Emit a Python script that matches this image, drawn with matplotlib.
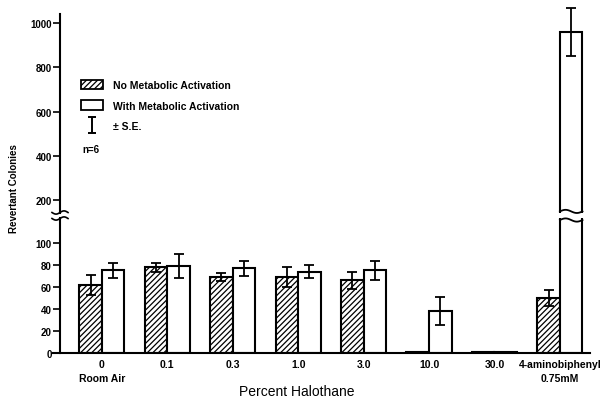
import numpy as np
import matplotlib
matplotlib.use("Agg")
import matplotlib.pyplot as plt
from matplotlib.patches import Patch
from matplotlib.lines import Line2D
from matplotlib.path import Path

plt.rcParams['font.family'] = ['Liberation Sans', 'DejaVu Sans']
plt.rcParams['hatch.linewidth'] = 0.9

# ---- data ----
categories = ["0\nRoom Air", "0.1", "0.3", "1.0", "3.0", "10.0", "30.0", "4-aminobiphenyl\n0.75mM"]
no_act = [62, 78, 69, 69, 66, 1, 1, 50]
no_act_se = [9, 4, 4, 9, 8, 0, 0, 7.5]
with_act = [75, 79, 77, 74, 75, 38, 1, 960]
with_act_se = [6.5, 11, 7, 6, 8.5, 13, 0, 110]
lower_ticks = [0, 20, 40, 60, 80, 100]
upper_ticks = [200, 400, 600, 800, 1000]

W, H = 610, 414
fig = plt.figure(figsize=(6.1, 4.14), dpi=100)

def rect(l, t, r, b):
    return [l / W, (H - b) / H, (r - l) / W, (b - t) / H]

ax_lo = fig.add_axes(rect(60, 219, 590, 354))
ax_hi = fig.add_axes(rect(60, 15, 590, 214), sharex=ax_lo)

x = np.arange(len(categories))
bw = 0.345
lw = 1.5
LO_TOP = 122.7
HI_BOT = 141

for ax in (ax_lo, ax_hi):
    ax.bar(x - bw / 2, no_act, bw, color='white', edgecolor='black', hatch='//////',
           linewidth=lw, zorder=2)
    ax.bar(x + bw / 2, with_act, bw, color='white', edgecolor='black', linewidth=lw, zorder=2)
    ax.spines['right'].set_visible(False)
    ax.spines['top'].set_visible(False)
    ax.spines['left'].set_linewidth(1.5)
    ax.tick_params(axis='y', direction='out', length=5, width=1.2, labelsize=7, pad=1)
    ax.tick_params(axis='x', length=0)

# error bars: lower panel for small values, upper panel (unclipped) for large ones
na = np.array(no_act, float); wa = np.array(with_act, float)
nse = np.array(no_act_se, float); wse = np.array(with_act_se, float)
for vals, se, off in ((na, nse, -bw / 2), (wa, wse, bw / 2)):
    lo_mask = vals < LO_TOP
    ax_lo.errorbar(x[lo_mask] + off, vals[lo_mask], yerr=se[lo_mask], fmt='none',
                   ecolor='black', elinewidth=1.3, capsize=3.5, capthick=1.3, zorder=3)
    hi_mask = vals > HI_BOT
    if hi_mask.any():
        eb = ax_hi.errorbar(x[hi_mask] + off, vals[hi_mask], yerr=se[hi_mask], fmt='none',
                            ecolor='black', elinewidth=1.3, capsize=3.5, capthick=1.3, zorder=3)
        for a in eb.lines[1] + eb.lines[2]:
            a.set_clip_on(False)

ax_lo.set_ylim(0, LO_TOP)
ax_hi.set_ylim(HI_BOT, 1041)
ax_lo.set_xlim(-0.64, 7.46)
ax_lo.set_yticks(lower_ticks)
ax_hi.set_yticks(upper_ticks)
ax_lo.spines['bottom'].set_linewidth(1.5)
ax_lo.spines['bottom'].set_bounds(-0.75, 7.46)
ax_hi.spines['bottom'].set_visible(False)
ax_hi.tick_params(axis='x', labelbottom=False)
ax_lo.set_xticks(x)
ax_lo.set_xticklabels(categories, fontsize=7.5, fontweight='bold', linespacing=1.5)
ax_lo.tick_params(axis='x', pad=4)
for t in ax_lo.get_yticklabels() + ax_hi.get_yticklabels():
    t.set_fontweight('bold')
ax_lo.spines['bottom'].set_clip_on(False)

# axis break marks on the y axis
for yb in (213.5, 219.5):
    xs = np.linspace(52, 68, 30)
    ys = yb + 1.6 * np.sin((xs - 52) / 16 * 2 * np.pi)
    fig.add_artist(Line2D(xs / W, (H - ys) / H, color='black', lw=1.2))

# wavy ends on the broken tall bar
i_big = int(np.argmax(with_act))
xl, xr = x[i_big], x[i_big] + bw
bx = np.linspace(xl, xr, 30)
wav = np.sin((bx - xl) / (xr - xl) * 2 * np.pi)
ax_lo.plot(bx, 0.985 + 0.012 * wav, color='black', lw=1.3,
           transform=ax_lo.get_xaxis_transform(), clip_on=False, zorder=4)
ax_hi.plot(bx, 0.008 + 0.008 * wav, color='black', lw=1.3,
           transform=ax_hi.get_xaxis_transform(), clip_on=False, zorder=4)

# legend
ipath = Path([(-0.5, 1), (0.5, 1), (0, 1), (0, -1), (-0.5, -1), (0.5, -1)],
             [Path.MOVETO, Path.LINETO, Path.MOVETO, Path.LINETO, Path.MOVETO, Path.LINETO])
handles = [Patch(facecolor='white', edgecolor='black', hatch='//////', linewidth=1.3),
           Patch(facecolor='white', edgecolor='black', linewidth=1.3),
           Line2D([], [], marker=ipath, ls='none', ms=12, mec='black', mew=1.4)]
labels = ["No Metabolic Activation", "With Metabolic Activation", "\u00b1 S.E."]
leg = ax_hi.legend(handles, labels, loc='upper left', bbox_to_anchor=(0.04, 0.67),
                   frameon=False, fontsize=7.5, handlelength=2.1, handleheight=1.0,
                   labelspacing=1.0, handletextpad=1.0, borderpad=0, borderaxespad=0)
for t in leg.get_texts():
    t.set_fontweight('bold')
ax_hi.text(0.0415, 0.32, "n=6", transform=ax_hi.transAxes, fontsize=7,
           fontweight='bold', va='center', ha='left')

fig.text(14 / W, (H - 189) / H, "Revertant Colonies", rotation=90, fontsize=7,
         fontweight='bold', ha='center', va='center')
fig.text(297 / W, (H - 392) / H, "Percent Halothane", fontsize=10,
         ha='center', va='center')

fig.savefig("out.png", dpi=100)
